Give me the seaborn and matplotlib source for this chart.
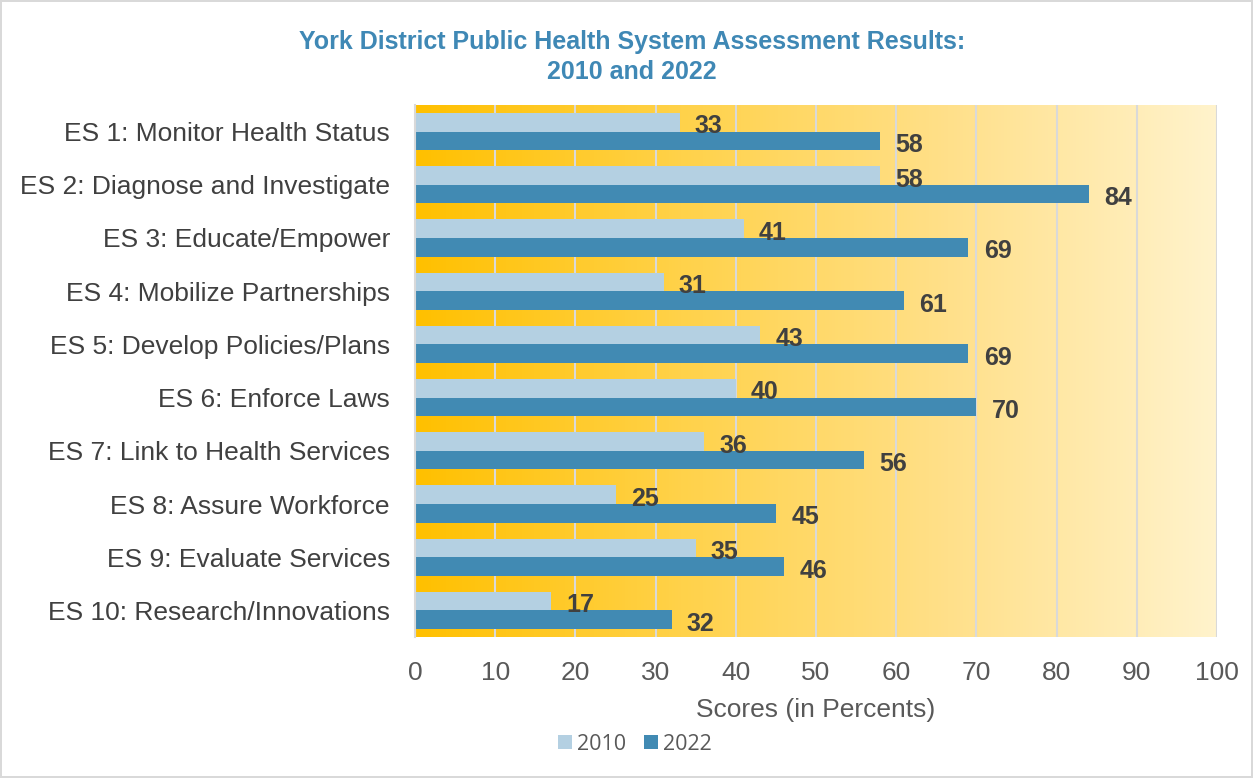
import numpy as np
import pandas as pd
import matplotlib
matplotlib.use("Agg")
import matplotlib.pyplot as plt
import seaborn as sns
from matplotlib.colors import LinearSegmentedColormap
from matplotlib.patches import Patch

categories = ["ES 1: Monitor Health Status", "ES 2: Diagnose and Investigate",
              "ES 3: Educate/Empower", "ES 4: Mobilize Partnerships",
              "ES 5: Develop Policies/Plans", "ES 6: Enforce Laws",
              "ES 7: Link to Health Services", "ES 8: Assure Workforce",
              "ES 9: Evaluate Services", "ES 10: Research/Innovations"]
scores_2010 = [33, 58, 41, 31, 43, 40, 36, 25, 35, 17]
scores_2022 = [58, 84, 69, 61, 69, 70, 56, 45, 46, 32]
years = ["2010", "2022"]
xticks = list(range(0, 101, 10))

df = pd.DataFrame({
    "Category": categories * 2,
    "Score": scores_2010 + scores_2022,
    "Year": [years[0]] * len(categories) + [years[1]] * len(categories),
})

sns.set_theme(style="white")
plt.rcParams['font.family'] = ['Liberation Sans', 'DejaVu Sans']

fig = plt.figure(figsize=(12.53, 7.78), dpi=100)
fig.patch.set_edgecolor('#D9D9D9')
fig.patch.set_linewidth(1.5)
ax = fig.add_axes([415/1253, 1-637/778, (1217-415)/1253, (637-105)/778])

# gradient background
cmap = LinearSegmentedColormap.from_list("g", ["#FFC000", "#FFD24A", "#FFE08A", "#FFF3CC"])
grad = np.linspace(0, 1, 256).reshape(1, -1)
ax.imshow(grad, cmap=cmap, aspect='auto', extent=[0, 100, 9.5, -0.5], zorder=0)

palette = {"2010": "#B4D0E2", "2022": "#418AB3"}
sns.barplot(data=df, y="Category", x="Score", hue="Year", orient="h",
            palette=palette, width=0.7, ax=ax, zorder=3, legend=False,
            edgecolor='none', saturation=1)

for c in ax.containers:
    anns = ax.bar_label(c, padding=11, fontsize=18, fontweight='bold', color='#404040')
    for a in anns:
        a.xyann = (11, -3)

ax.set_xlim(0, 100)
ax.set_ylim(9.5, -0.5)
ax.set_xticks(xticks)
ax.xaxis.grid(True, color='#D9D9D9', linewidth=1.5)
for gl in ax.get_xgridlines():
    gl.set_zorder(1)
for s in ["top", "right", "bottom"]:
    ax.spines[s].set_visible(False)
ax.spines["left"].set_color('#D9D9D9')
ax.spines["left"].set_linewidth(1.5)
ax.spines["left"].set_zorder(4)
ax.tick_params(axis='y', length=0, pad=18, labelsize=19, labelcolor='#404040')
ax.tick_params(axis='x', length=0, pad=17, labelsize=19, labelcolor='#595959')
ax.set_ylabel("")
ax.set_xlabel("Scores (in Percents)", fontsize=19, color='#595959', labelpad=10)

title_family = ['Liberation Sans Narrow', 'Liberation Sans', 'DejaVu Sans']
fig.text(632/1253, 1-42/778, "York District Public Health System Assessment Results:",
         ha='center', va='center', fontsize=18, fontweight='bold', color='#3F88B5',
         family=title_family)
fig.text(632/1253, 1-72/778, "2010 and 2022",
         ha='center', va='center', fontsize=18, fontweight='bold', color='#3F88B5',
         family=title_family)

handles = [Patch(facecolor=palette[y], edgecolor='none', label=y) for y in years]
fig.legend(handles=handles, loc='center', bbox_to_anchor=(635/1253, 1-744/778),
           ncol=2, frameon=False, handlelength=0.65, handleheight=0.65,
           handletextpad=0.25, columnspacing=0.8, labelcolor='#595959',
           prop={'family': ['Open Sans', 'DejaVu Sans'], 'size': 15.5})

fig.savefig("out.png", dpi=100, edgecolor=fig.get_edgecolor())
